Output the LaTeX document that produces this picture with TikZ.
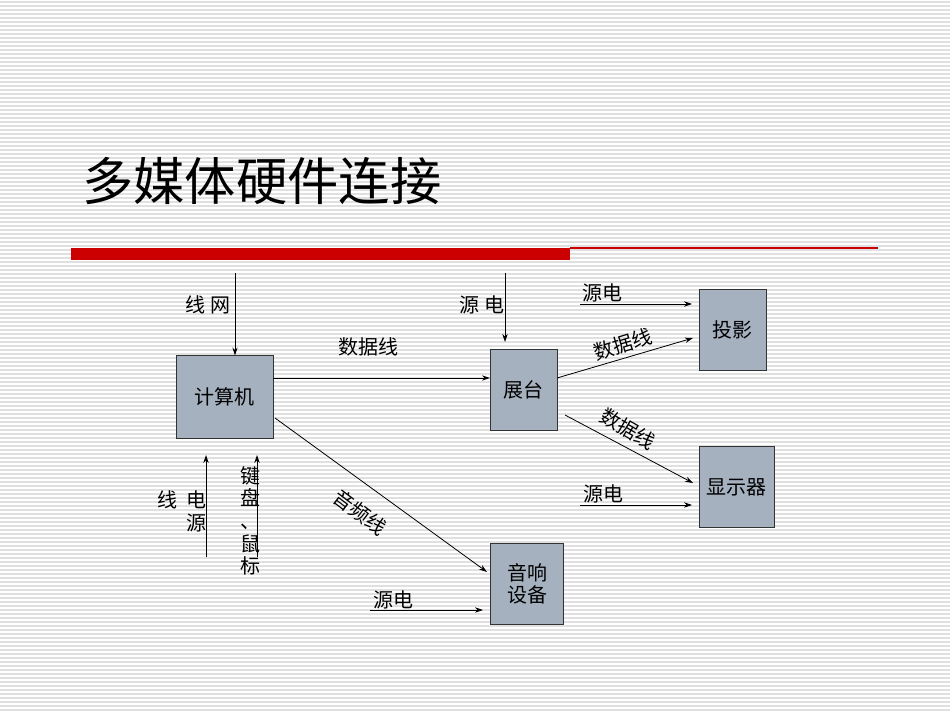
\documentclass[tikz,border=0pt]{standalone}
\usepackage{fontspec}
\setmainfont{Noto Sans CJK SC}
\usetikzlibrary{arrows.meta}
\begin{document}
\begin{tikzpicture}[x=0.75pt,y=-0.75pt,
  box/.style={draw=black!80,fill={rgb,255:red,166;green,177;blue,191},minimum width=#1,inner sep=0pt},
  conn/.style={-{Stealth[length=6pt,width=4pt]},line width=0.6pt},
  lab/.style={font=\fontsize{15}{17}\selectfont,inner sep=0pt}]
\useasboundingbox (0,0) rectangle (950,713);
\fill[white] (0,0) rectangle (950,713);
\foreach \y in {2,6,...,713} \draw[black!12,line width=0.9pt] (0,\y) -- (950,\y);
\node[anchor=west,font=\fontsize{38.5}{44}\selectfont,inner sep=0pt] (title) at (82,181) {多媒体硬件连接};
\fill[red!80!black] (71,248) rectangle (570,260);
\draw[red!80!black,line width=0.8pt] (570,248) -- (878,248);
% boxes
\node[box=73pt,minimum height=62pt,lab] (pc) at (224.5,397) {计算机};
\node[box=50pt,minimum height=61pt,lab] (zt) at (523.5,389.5) {展台};
\node[box=50pt,minimum height=61pt,lab] (ty) at (732.5,330) {投影};
\node[box=56pt,minimum height=61pt,lab] (xs) at (736.5,487) {显示器};
\node[box=55pt,minimum height=61pt,lab,align=center] (yx) at (527,584) {音响\\设备};
% coordinates
\coordinate (n1) at (235,273);
\coordinate (n2) at (505,273);
\coordinate (s1) at (580,304);
\coordinate (s2) at (580,505);
\coordinate (s3) at (370,610);
\coordinate (d1) at (206,557);
\coordinate (d2) at (257,557);
\coordinate (ztr) at (557,378);
\coordinate (ztr2) at (565,415);
\coordinate (pcr) at (275,418);
% arrows
\draw[conn] (n1) -- (pc.north -| n1);
\draw[conn] (n2) -- (505,342);
\draw[conn] (pc.east |- 0,378) -- (zt.west |- 0,378);
\draw[conn] (ztr) -- (693,338);
\draw[conn] (ztr2) -- (693,483);
\draw[conn] (pcr) -- (487,572);
\draw[conn] (s1) -- (692,304);
\draw[conn] (s2) -- (692,505);
\draw[conn] (s3) -- (483,610);
\draw[conn] (d1) -- (206,455);
\draw[conn] (d2) -- (257,455);
% labels
\node[lab] (l1) at (208,305) {线 网};
\node[lab] (l2) at (482,305) {源 电};
\node[lab] (l3) at (368,347) {数据线};
\node[lab,rotate=17] (l4) at (623,344) {数据线};
\node[lab,rotate=-30] (l5) at (628,429) {数据线};
\node[lab,rotate=-37] (l6) at (360,512) {音频线};
\node[lab] (l7) at (602,293) {源电};
\node[lab] (l8) at (603,494) {源电};
\node[lab] (l9) at (393,600) {源电};
\node[lab] (l10) at (167,500) {线};
\node[lab] (l11) at (196,500) {电};
\node[lab] (l12) at (196,523) {源};
\node[lab,align=center] (l13) at (250,521) {键\\盘\\、\\鼠\\标};
\end{tikzpicture}
\end{document}
